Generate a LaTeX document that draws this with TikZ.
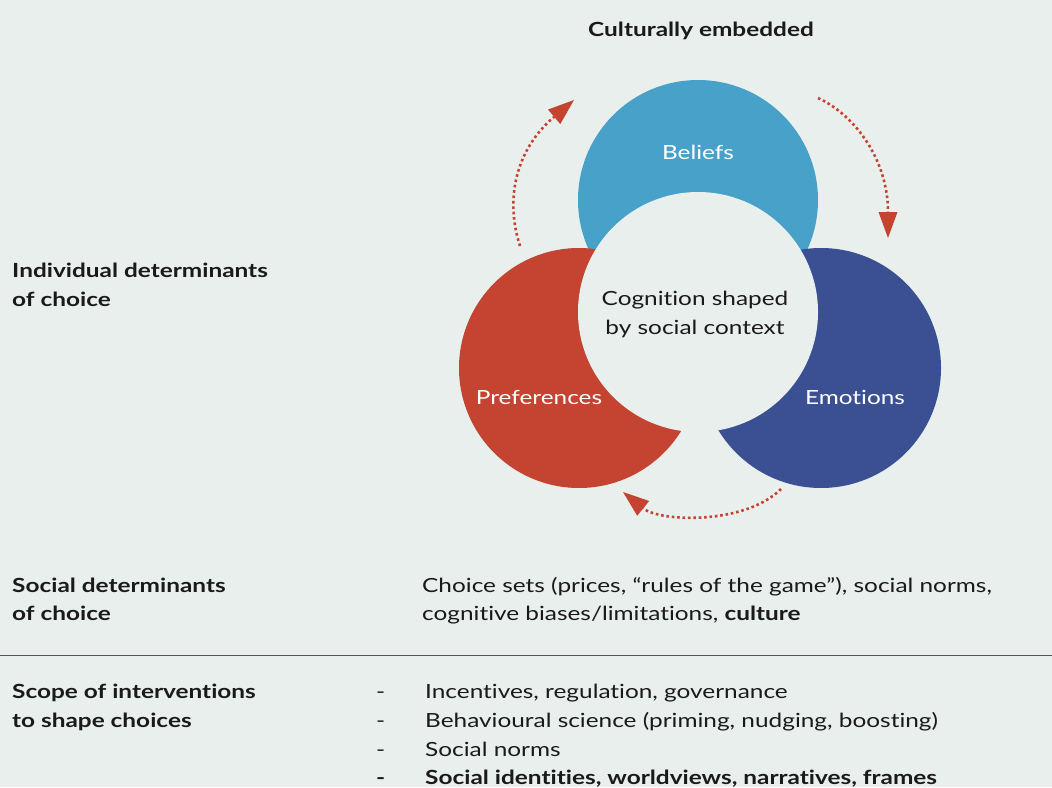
\documentclass[tikz,border=0pt]{standalone}
\usepackage{fontspec}
\setmainfont{Lato}[FakeStretch=1.25, Ligatures={NoCommon,TeX}]
\usetikzlibrary{arrows.meta}
\definecolor{bg}{HTML}{E9EFEC}
\definecolor{cblue}{HTML}{47A1C9}
\definecolor{cred}{HTML}{C44431}
\definecolor{cdark}{HTML}{3B5093}
\definecolor{ctext}{HTML}{1A1A1A}
\definecolor{cline}{HTML}{555555}
\tikzset{
  txt/.style={anchor=base west, inner sep=0pt, text=ctext, font=\fontsize{19.5}{29}\selectfont},
  btxt/.style={txt, font=\fontsize{19.5}{29}\selectfont\bfseries},
  ctxt/.style={anchor=base, inner sep=0pt, text=ctext, font=\fontsize{19.5}{29}\selectfont},
  wtxt/.style={anchor=base, inner sep=0pt, text=white, font=\fontsize{19.5}{29}\selectfont},
  cycarrow/.style={draw=cred, line width=2.6pt, dash pattern=on 2.6pt off 2.8pt,
    -{Triangle[length=26pt,width=19pt,fill=cred,line width=0pt]}},
}
\begin{document}
\begin{tikzpicture}[x=1pt,y=-1pt]
\fill[bg] (0,0) rectangle (1052,787);
\useasboundingbox (0,0) rectangle (1052,787);
% circles
\fill[cblue] (698,200) circle (120);
\fill[cred] (579,368) circle (120);
\fill[cdark] (821,368) circle (120);
\fill[bg] (698,312) circle (120);
% labels inside
\node[ctxt, font=\fontsize{19.5}{29}\selectfont\bfseries] (title) at (701,36) {Culturally embedded};
\node[wtxt] (bel) at (698,159) {Beliefs};
\node[wtxt] (pref) at (539,404) {Preferences};
\node[wtxt] (emo) at (855,404) {Emotions};
\node[ctxt] (cog1) at (695,305) {Cognition shaped};
\node[ctxt] (cog2) at (695,334) {by social context};
% cycle arrows
\coordinate (a1s) at (520,246);
\coordinate (a1e) at (574,100);
\coordinate (a2s) at (818,98);
\coordinate (a2e) at (888,238);
\coordinate (a3s) at (781,489);
\coordinate (a3e) at (623,492);
\draw[cycarrow] (a1s) .. controls (505,200) and (515,150) .. (a1e);
\draw[cycarrow] (a2s) .. controls (855,115) and (888,160) .. (a2e);
\draw[cycarrow] (a3s) .. controls (745,525) and (660,522) .. (a3e);
% left labels
\node[btxt] (ind1) at (12,277) {Individual determinants};
\node[btxt] (ind2) at (12,306) {of choice};
\node[btxt] (soc1) at (12,592) {Social determinants};
\node[btxt] (soc2) at (12,620) {of choice};
\node[txt] (cs1) at (422,592) {Choice sets (prices, “rules of the game”), social norms,};
\node[txt] (cs2) at (422,620) {cognitive biases/limitations, \textbf{culture}};
% rule
\coordinate (rl) at (0,655.5);
\coordinate (rr) at (1052,655.5);
\draw[cline, line width=1pt] (rl) -- (rr);
% scope
\node[btxt] (sc1) at (12,698) {Scope of interventions};
\node[btxt] (sc2) at (12,727) {to shape choices};
\node[txt] (d1) at (376,698) {-};
\node[txt] (d2) at (376,727) {-};
\node[txt] (d3) at (376,756) {-};
\node[btxt] (d4) at (376,784) {-};
\node[txt] (i1) at (425,698) {Incentives, regulation, governance};
\node[txt] (i2) at (425,727) {Behavioural science (priming, nudging, boosting)};
\node[txt] (i3) at (425,756) {Social norms};
\node[btxt] (i4) at (425,784) {Social identities, worldviews, narratives, frames};
\end{tikzpicture}
\end{document}
